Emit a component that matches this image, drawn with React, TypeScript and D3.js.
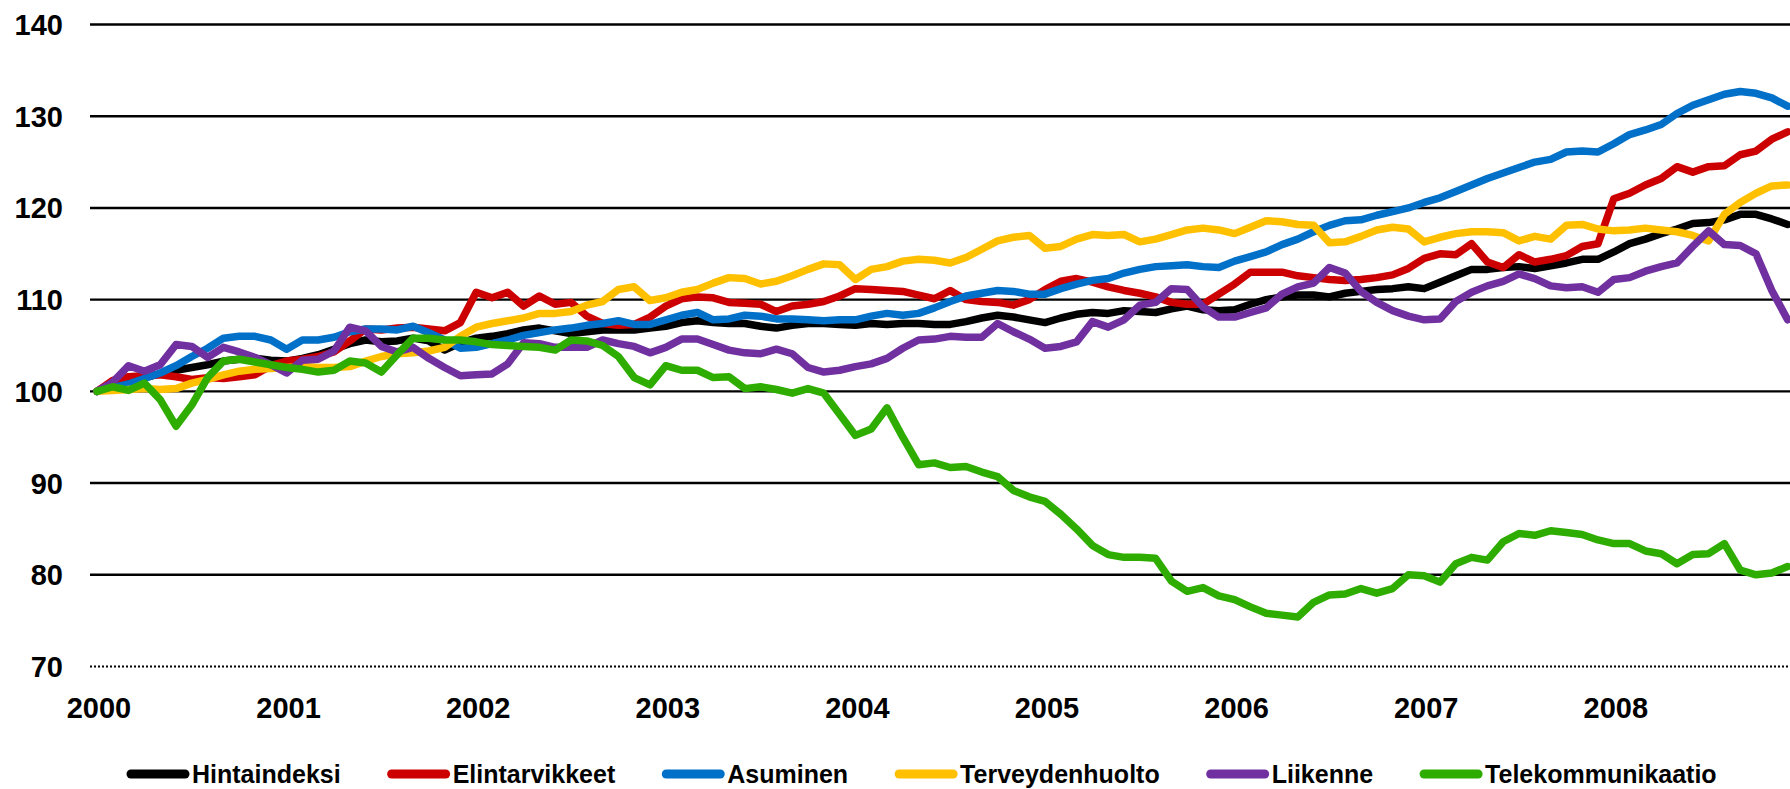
import React, { useEffect, useRef } from 'react';
import * as d3 from 'd3';

const W = 1790;
const H = 789;

const years = ['2000', '2001', '2002', '2003', '2004', '2005', '2006', '2007', '2008'];
const yTicks = [70, 80, 90, 100, 110, 120, 130, 140];

// monthly index values, Jan 2000 = 100
const hintaindeksi = [
  100, 100.6, 101.1, 101.5, 101.9, 102.3, 102.6, 102.9, 103.3, 103.5, 103.6, 103.4,
  103.3, 103.6, 104.0, 104.6, 105.2, 105.6, 105.4, 105.5, 105.8, 105.5, 104.5, 105.3,
  105.8, 106.0, 106.3, 106.7, 106.9, 106.6, 106.3, 106.5, 106.7, 106.7, 106.7, 106.9,
  107.1, 107.5, 107.7, 107.5, 107.4, 107.4, 107.1, 106.9, 107.2, 107.4, 107.4, 107.3,
  107.2, 107.4, 107.3, 107.4, 107.4, 107.3, 107.3, 107.6, 108.0, 108.3, 108.1, 107.8,
  107.5, 108.0, 108.4, 108.6, 108.5, 108.8, 108.7, 108.6, 109.0, 109.3, 108.9, 108.8,
  108.9, 109.5, 110.0, 110.3, 110.5, 110.5, 110.3, 110.7, 110.9, 111.1, 111.2, 111.4,
  111.2, 111.9, 112.6, 113.3, 113.3, 113.5, 113.6, 113.4, 113.7, 114.0, 114.4, 114.4,
  115.2, 116.1, 116.6, 117.2, 117.7, 118.3, 118.4, 118.7, 119.3, 119.3, 118.8, 118.2,
];
const elintarvikkeet = [
  100, 101.2, 101.6, 101.7, 101.8, 101.6, 101.3, 101.5, 101.4, 101.6, 101.8, 102.8,
  103.3, 103.5, 103.8, 104.3, 105.5, 106.8, 106.7, 106.9, 107.0, 106.8, 106.6, 107.5,
  110.8, 110.2, 110.8, 109.3, 110.4, 109.5, 109.7, 108.2, 107.4, 107.2, 107.3, 108.1,
  109.3, 110.1, 110.3, 110.2, 109.7, 109.6, 109.5, 108.7, 109.3, 109.5, 109.8, 110.4,
  111.2, 111.1, 111.0, 110.9, 110.5, 110.1, 111.0, 110.0, 109.8, 109.7, 109.4, 110.0,
  111.1, 112.0, 112.3, 111.9, 111.4, 111.0, 110.7, 110.3, 109.7, 109.5, 109.5, 110.6,
  111.7, 113.0, 113.0, 113.0, 112.6, 112.4, 112.2, 112.1, 112.2, 112.4, 112.7, 113.4,
  114.5, 115.0, 114.9, 116.1, 114.1, 113.5, 114.9, 114.1, 114.4, 114.8, 115.8, 116.1,
  121.0, 121.6, 122.5, 123.2, 124.5, 123.9, 124.5, 124.6, 125.8, 126.2, 127.5, 128.3,
];
const asuminen = [
  100, 100.4, 100.8, 101.4, 102.0, 102.8, 103.8, 104.7, 105.8, 106.0, 106.0, 105.6,
  104.6, 105.6, 105.6, 105.9, 106.5, 106.8, 106.8, 106.7, 107.1, 106.4, 105.6, 104.7,
  104.8, 105.2, 105.6, 106.1, 106.4, 106.7, 106.9, 107.2, 107.4, 107.7, 107.3, 107.3,
  107.8, 108.3, 108.6, 107.8, 107.9, 108.3, 108.2, 107.9, 107.9, 107.8, 107.7, 107.8,
  107.8, 108.2, 108.5, 108.3, 108.5, 109.1, 109.8, 110.4, 110.7, 111.0, 110.9, 110.6,
  110.6, 111.2, 111.7, 112.1, 112.3, 112.9, 113.3, 113.6, 113.7, 113.8, 113.6, 113.5,
  114.2, 114.7, 115.2, 116.0, 116.6, 117.4, 118.1, 118.6, 118.7, 119.2, 119.6, 120.0,
  120.6, 121.1, 121.8, 122.5, 123.2, 123.8, 124.4, 125.0, 125.3, 126.1, 126.2, 126.1,
  127.0, 128.0, 128.5, 129.1, 130.3, 131.2, 131.8, 132.4, 132.7, 132.5, 132.0, 131.1,
];
const terveydenhuolto = [
  100, 100.1, 100.2, 100.3, 100.2, 100.3, 100.9, 101.3, 101.8, 102.2, 102.4, 102.5,
  102.6, 102.7, 102.6, 102.6, 102.7, 103.3, 103.8, 104.1, 104.2, 104.4, 104.8, 106.0,
  107.0, 107.4, 107.7, 108.0, 108.5, 108.5, 108.7, 109.4, 109.8, 111.1, 111.4, 109.9,
  110.2, 110.8, 111.1, 111.8, 112.4, 112.3, 111.7, 112.0, 112.6, 113.3, 113.9, 113.8,
  112.2, 113.3, 113.6, 114.2, 114.4, 114.3, 114.0, 114.6, 115.5, 116.4, 116.8, 117.0,
  115.6, 115.8, 116.6, 117.1, 117.0, 117.1, 116.3, 116.6, 117.1, 117.6, 117.8, 117.6,
  117.2, 117.9, 118.6, 118.5, 118.2, 118.1, 116.2, 116.3, 116.9, 117.6, 117.9, 117.7,
  116.3, 116.8, 117.2, 117.4, 117.4, 117.3, 116.4, 116.9, 116.6, 118.1, 118.2, 117.7,
  117.5, 117.6, 117.8, 117.6, 117.4, 117.0, 116.4, 119.3, 120.6, 121.6, 122.4, 122.5,
];
const liikenne = [
  100, 101.0, 102.8, 102.2, 102.9, 105.1, 104.9, 103.7, 104.8, 104.3, 103.7, 102.9,
  102.0, 103.4, 103.5, 104.4, 107.0, 106.6, 104.9, 104.3, 104.8, 103.6, 102.6, 101.7,
  101.8, 101.9, 103.0, 105.3, 105.2, 104.8, 104.8, 104.8, 105.6, 105.2, 104.9, 104.2,
  104.8, 105.7, 105.7, 105.1, 104.5, 104.2, 104.1, 104.6, 104.1, 102.6, 102.1, 102.3,
  102.7, 103.0, 103.6, 104.7, 105.6, 105.7, 106.0, 105.9, 105.9, 107.4, 106.5, 105.7,
  104.7, 104.9, 105.4, 107.6, 107.0, 107.8, 109.4, 109.7, 111.2, 111.1, 109.2, 108.1,
  108.1, 108.6, 109.1, 110.6, 111.4, 111.8, 113.5, 112.9, 110.9, 109.7, 108.8, 108.2,
  107.8, 107.9, 109.8, 110.8, 111.5, 112.0, 112.8, 112.3, 111.5, 111.3, 111.4, 110.8,
  112.2, 112.4, 113.1, 113.6, 114.0, 115.8, 117.5, 116.0, 115.9, 115.0, 111.0, 107.8,
];
const telekommunikaatio = [
  100, 100.5, 100.1, 100.9, 99.1, 96.2, 98.5, 101.5, 103.3, 103.5, 103.2, 102.9,
  102.6, 102.4, 102.1, 102.3, 103.3, 103.1, 102.1, 104.0, 105.8, 105.8, 105.6, 105.6,
  105.4, 105.1, 105.0, 104.9, 104.8, 104.5, 105.6, 105.5, 105.0, 103.8, 101.5, 100.7,
  102.8, 102.3, 102.3, 101.5, 101.6, 100.3, 100.5, 100.2, 99.8, 100.3, 99.8, 97.5,
  95.2, 95.9, 98.2, 95.0, 92.0, 92.2, 91.7, 91.8, 91.2, 90.7, 89.2, 88.5,
  88.0, 86.6, 85.0, 83.2, 82.2, 81.9, 81.9, 81.8, 79.3, 78.2, 78.6, 77.7,
  77.3, 76.5, 75.8, 75.6, 75.4, 77.0, 77.8, 77.9, 78.5, 78.0, 78.5, 80.0,
  79.9, 79.2, 81.2, 81.9, 81.6, 83.6, 84.5, 84.3, 84.8, 84.6, 84.4, 83.8,
  83.4, 83.4, 82.6, 82.3, 81.2, 82.2, 82.3, 83.4, 80.5, 80.0, 80.2, 80.9,
];

const series = [
  { name: 'Hintaindeksi', color: '#000000', values: hintaindeksi },
  { name: 'Elintarvikkeet', color: '#CC0000', values: elintarvikkeet },
  { name: 'Asuminen', color: '#0070C8', values: asuminen },
  { name: 'Terveydenhuolto', color: '#FFC000', values: terveydenhuolto },
  { name: 'Liikenne', color: '#7030A0', values: liikenne },
  { name: 'Telekommunikaatio', color: '#2EAD00', values: telekommunikaatio },
];

const FONT = '"Liberation Sans", Arial, sans-serif';

export default function App() {
  const svgRef = useRef<SVGSVGElement>(null);

  useEffect(() => {
    if (!svgRef.current) return;
    const svg = d3.select(svgRef.current);
    svg.selectAll('*').remove();

    const nMonths = hintaindeksi.length;
    const x = d3.scaleLinear().domain([0, nMonths - 1]).range([97, 1787.6]);
    const y = d3.scaleLinear().domain([70, 140]).range([666.5, 24.5]);
    const gridLeft = 90;

    // gridlines
    const grid = svg.append('g');
    yTicks.forEach(t => {
      grid.append('line')
        .attr('x1', gridLeft).attr('x2', W)
        .attr('y1', y(t)).attr('y2', y(t))
        .attr('stroke', '#000')
        .attr('stroke-width', t === 70 ? 1.8 : 2.4)
        .attr('stroke-dasharray', t === 70 ? '2,2' : null);
    });

    // y labels
    svg.append('g').selectAll('text')
      .data(yTicks).enter().append('text')
      .attr('x', 63).attr('y', d => y(d))
      .attr('dy', '0.36em')
      .attr('text-anchor', 'end')
      .attr('font-family', FONT).attr('font-weight', 'bold').attr('font-size', 29)
      .attr('fill', '#000')
      .text(d => d);

    // x labels, one per January
    svg.append('g').selectAll('text')
      .data(years).enter().append('text')
      .attr('x', (_, i) => x(i * 12) + 2)
      .attr('y', 718)
      .attr('text-anchor', 'middle')
      .attr('font-family', FONT).attr('font-weight', 'bold').attr('font-size', 29)
      .attr('fill', '#000')
      .text(d => d);

    // lines
    const line = d3.line<number>()
      .x((_, i) => x(i))
      .y(d => y(d));
    const lines = svg.append('g');
    series.forEach(s => {
      lines.append('path')
        .attr('d', line(s.values)!)
        .attr('fill', 'none')
        .attr('stroke', s.color)
        .attr('stroke-width', 7.5)
        .attr('stroke-linejoin', 'round')
        .attr('stroke-linecap', 'round');
    });

    // legend
    const legend = svg.append('g');
    let lx = 127;
    const ly = 774;
    series.forEach(s => {
      legend.append('line')
        .attr('x1', lx + 4).attr('x2', lx + 58)
        .attr('y1', ly).attr('y2', ly)
        .attr('stroke', s.color)
        .attr('stroke-width', 9)
        .attr('stroke-linecap', 'round');
      const t = legend.append('text')
        .attr('x', lx + 65).attr('y', 783)
        .attr('font-family', FONT).attr('font-weight', 'bold').attr('font-size', 25)
        .attr('fill', '#000')
        .text(s.name);
      const tw = (t.node() as SVGTextElement).getComputedTextLength();
      lx = lx + 65 + tw + 47;
    });
  }, []);

  return (
    <svg
      ref={svgRef}
      width={W}
      height={H}
      style={{ position: 'absolute', left: 0, top: 0, background: '#fff', display: 'block' }}
    />
  );
}
